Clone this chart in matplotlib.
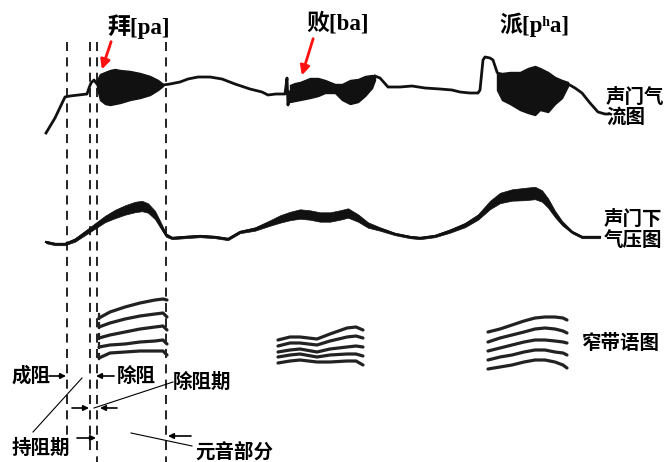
import matplotlib
matplotlib.use("Agg")
import matplotlib.pyplot as plt
import numpy as np

plt.rcParams['font.family'] = ['Noto Sans CJK SC', 'DejaVu Sans']

# ---------------- data (pixel space of the drawing, y downward) ----------------
# glottal airflow trace (line parts)
flow_a_x = [46, 55, 65, 70, 87, 89, 91, 94, 97]
flow_a_y = [133, 118, 97, 96, 94, 88, 83, 80, 84]
flow_b_x = [163, 170, 180, 188, 198, 210, 222, 235, 250, 262, 268, 276, 285, 287, 288, 290]
flow_b_y = [85, 84, 82, 79, 77, 77, 79, 84, 89, 92, 95, 94, 94, 78, 105, 92]
flow_c_x = [375, 380, 388, 400, 412, 425, 440, 452, 460, 470, 478, 480, 483, 485, 490, 493, 497]
flow_c_y = [76, 78, 87, 87, 86, 88, 89, 90, 92, 93, 93, 90, 60, 57, 58, 60, 72]
flow_d_x = [568, 575, 582, 590, 598, 605, 608]
flow_d_y = [84, 88, 93, 103, 112, 114, 114]

# voicing bursts (upper / lower envelopes)
burst1_x = [97, 100, 105, 110, 115, 120, 130, 140, 150, 158, 163]
burst1_top = [80, 74, 72, 70, 69, 70, 71, 73, 76, 80, 84]
burst1_bot = [88, 100, 104, 105, 104, 103, 100, 98, 95, 90, 86]
burst2_x = [290, 295, 300, 305, 310, 318, 325, 335, 342, 350, 358, 365, 372, 375]
burst2_top = [85, 83, 82, 80, 78, 78, 80, 84, 84, 80, 79, 76, 75, 76]
burst2_bot = [102, 101, 100, 99, 98, 96, 93, 93, 100, 104, 102, 96, 88, 80]
burst3_x = [497, 502, 510, 520, 528, 535, 540, 548, 555, 562, 568]
burst3_top = [72, 73, 72, 72, 68, 66, 68, 72, 77, 80, 82]
burst3_bot = [90, 100, 104, 110, 113, 115, 110, 112, 104, 98, 86]

# subglottal pressure trace
pres_x = [46, 55, 65, 75, 85, 95, 105, 115, 125, 135, 142, 148, 155, 160, 166, 172, 185, 200,
          215, 228, 240, 255, 270, 280, 290, 300, 310, 320, 330, 340, 348, 358, 368, 380, 395,
          410, 420, 435, 450, 465, 478, 490, 500, 512, 525, 535, 542, 548, 555, 562, 572, 582,
          592, 600]
pres_y = [242, 244, 244, 240, 233, 226, 219, 214, 210, 207, 206, 208, 215, 224, 235, 238, 237,
          236, 237, 239, 232, 229, 223, 219, 216, 214, 215, 217, 217, 215, 213, 218, 225, 229,
          234, 237, 238, 236, 231, 225, 217, 205, 198, 195, 194, 193, 196, 203, 214, 223, 232,
          237, 237, 237]
pres_w = [0, 0, 0, 1, 2, 3, 4, 6, 7, 8, 8, 7, 6, 4, 1, 0, 0, 0, 0, 0, 0, 1, 3, 5, 6, 7, 7, 7,
          7, 7, 7, 5, 3, 1, 0, 0, 0, 0, 1, 2, 3, 6, 8, 9, 10, 10, 9, 7, 4, 2, 0, 0, 0, 0]

# narrow-band spectrogram harmonics
spec1_x = [99, 110, 125, 140, 155, 163, 167]
spec1_lines = [
    [318, 312, 307, 303, 300, 299, 300],
    [327, 323, 319, 316, 314, 313, 317],
    [338, 335, 332, 329, 327, 326, 330],
    [347, 345, 344, 342, 341, 340, 344],
    [358, 353, 352, 351, 351, 351, 355],
]
spec2_x = [278, 290, 300, 317, 330, 347, 356, 363]
spec2_lines = [
    [340, 337, 337, 339, 334, 328, 327, 330],
    [346, 343, 343, 345, 341, 337, 336, 338],
    [352, 350, 349, 352, 349, 347, 346, 347],
    [357, 355, 354, 357, 355, 354, 354, 356],
    [363, 361, 360, 362, 362, 361, 361, 365],
]
spec3_x = [488, 500, 512, 524, 535, 545, 555, 563, 567]
spec3_lines = [
    [332, 329, 325, 321, 318, 317, 317, 318, 320],
    [342, 338, 335, 332, 329, 328, 329, 331, 333],
    [351, 348, 345, 342, 340, 340, 341, 342, 343],
    [360, 357, 355, 352, 350, 350, 352, 353, 355],
    [369, 367, 365, 362, 360, 360, 362, 365, 368],
]

# segment boundaries (dashed lines)
boundary_x = [67, 90, 97, 166]
boundary_bottom = [456, 456, 462, 462]

# ---------------- drawing ----------------
fig = plt.figure(figsize=(6.7, 4.62), dpi=100)
ax = fig.add_axes([0, 0, 1, 1])
ax.set_xlim(0, 670)
ax.set_ylim(462, 0)
ax.axis('off')

k = '#111111'
for bx, bb in zip(boundary_x, boundary_bottom):
    ax.plot([bx, bx], [42, bb], color=k, lw=1.3, ls=(0, (5, 3.5)))

for xs, ys in [(flow_a_x, flow_a_y), (flow_b_x, flow_b_y), (flow_c_x, flow_c_y), (flow_d_x, flow_d_y)]:
    ax.plot(xs, ys, color=k, lw=2.0, solid_joinstyle='round')

for bx, bt, bb in [(burst1_x, burst1_top, burst1_bot), (burst2_x, burst2_top, burst2_bot),
                   (burst3_x, burst3_top, burst3_bot)]:
    ax.fill_between(bx, bt, bb, color=k, lw=1.0, edgecolor=k)

px = np.array(pres_x, float)
py = np.array(pres_y, float)
pw = np.array(pres_w, float)
ax.fill_between(px, py - pw / 2 - 1.2, py + pw / 2 + 1.2, color=k, lw=0.5, edgecolor=k)
ax.plot(px, py, color=k, lw=1.6)

for sx, lines in [(spec1_x, spec1_lines), (spec2_x, spec2_lines), (spec3_x, spec3_lines)]:
    for ly in lines:
        ax.plot(sx, ly, color='#222222', lw=2.3, solid_capstyle='round')
for ly in spec1_lines:
    ax.plot([spec1_x[0], spec1_x[0]], [ly[0] - 4, ly[0] + 1], color='#222222', lw=1.6)

# ---------------- text ----------------
title_font = ['Liberation Serif', 'Noto Sans CJK SC', 'DejaVu Serif']
ax.text(107, 27, '拜[pa]', fontsize=16.5, fontweight='bold', family=title_font, va='center', ha='left')
ax.text(306, 23, '败[ba]', fontsize=16.5, fontweight='bold', family=title_font, va='center', ha='left')
ax.text(499, 25, '派[pʰa]', fontsize=16.5, fontweight='bold', family=title_font, va='center', ha='left')

lab = dict(fontsize=14, fontweight='bold', va='center', ha='left')
ax.text(606, 97, '声门气', **lab)
ax.text(606, 117, '流图', **lab)
ax.text(604, 219, '声门下', **lab)
ax.text(604, 240, '气压图', **lab)
ax.text(582, 343, '窄带语图', **lab)
ax.text(12, 376, '成阻', **lab)
ax.text(117, 376, '除阻', **lab)
ax.text(173, 382, '除阻期', **lab)
ax.text(12, 448, '持阻期', **lab)
ax.text(195, 452, '元音部分', **lab)

# red arrows
red_arrow = dict(arrowstyle='-|>', color='#ff1010', lw=2.0, mutation_scale=14)
ax.annotate('', xy=(101, 72), xytext=(112, 39), arrowprops=red_arrow)
ax.annotate('', xy=(301, 78), xytext=(314, 36), arrowprops=red_arrow)

# black pointer arrows
blk = dict(arrowstyle='-|>', color='k', lw=1.2, mutation_scale=8, shrinkA=0, shrinkB=0)
ax.annotate('', xy=(66, 376), xytext=(49, 376), arrowprops=blk)
ax.annotate('', xy=(96, 376), xytext=(114, 376), arrowprops=blk)
ax.annotate('', xy=(89, 408), xytext=(72, 408), arrowprops=blk)
ax.annotate('', xy=(100, 408), xytext=(117, 408), arrowprops=blk)
ax.annotate('', xy=(96, 438), xytext=(77, 438), arrowprops=blk)
ax.annotate('', xy=(168, 436), xytext=(191, 436), arrowprops=blk)

# thin leader lines
thin = dict(color='k', lw=0.8)
ax.plot([173, 94], [382, 408], **thin)
ax.plot([33, 82], [432, 378], **thin)
ax.plot([131, 192], [433, 446], **thin)

fig.savefig('out.png', dpi=100)
